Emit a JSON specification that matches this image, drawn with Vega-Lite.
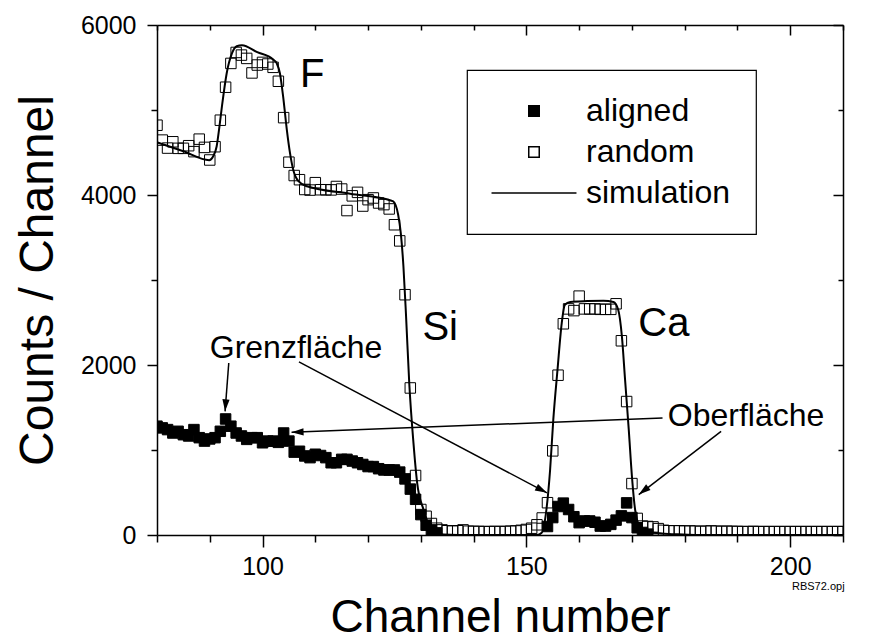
{
  "$schema": "https://vega.github.io/schema/vega-lite/v6.json",
  "width": 686,
  "height": 510,
  "autosize": "none",
  "padding": {"left": 157, "top": 25, "right": 31, "bottom": 109},
  "background": "white",
  "config": {
    "view": {"stroke": null},
    "font": "Liberation Sans",
    "axis": {
      "domainColor": "black", "domainWidth": 1.5, "tickColor": "black", "tickWidth": 1.5,
      "grid": false, "labelColor": "black", "labelFont": "Liberation Sans", "labelFontSize": 25,
      "titleColor": "black", "titleFont": "Liberation Sans", "titleFontWeight": "normal", "titleFontSize": 46,
      "labelFlush": false, "labelOverlap": false
    },
    "legend": {
      "orient": "none", "legendX": 310, "legendY": 45, "padding": 25,
      "strokeColor": "black", "strokeWidth": 1.2, "fillColor": "white",
      "labelFont": "Liberation Sans", "labelFontSize": 32, "labelColor": "black", "labelLimit": 400,
      "symbolSize": 110, "symbolStrokeColor": "black", "symbolStrokeWidth": 1.5,
      "symbolOffset": 26, "labelOffset": 36, "rowPadding": 9
    }
  },
  "datasets": {
    "measured": [
      {"channel": 80, "counts": 1280, "series": "aligned"}, {"channel": 81, "counts": 1260, "series": "aligned"},
      {"channel": 82, "counts": 1240, "series": "aligned"}, {"channel": 83, "counts": 1200, "series": "aligned"},
      {"channel": 84, "counts": 1220, "series": "aligned"}, {"channel": 85, "counts": 1180, "series": "aligned"},
      {"channel": 86, "counts": 1165, "series": "aligned"}, {"channel": 87, "counts": 1240, "series": "aligned"},
      {"channel": 88, "counts": 1145, "series": "aligned"}, {"channel": 89, "counts": 1105, "series": "aligned"},
      {"channel": 90, "counts": 1130, "series": "aligned"}, {"channel": 91, "counts": 1145, "series": "aligned"},
      {"channel": 92, "counts": 1220, "series": "aligned"}, {"channel": 93, "counts": 1365, "series": "aligned"},
      {"channel": 94, "counts": 1280, "series": "aligned"}, {"channel": 95, "counts": 1200, "series": "aligned"},
      {"channel": 96, "counts": 1165, "series": "aligned"}, {"channel": 97, "counts": 1125, "series": "aligned"},
      {"channel": 98, "counts": 1145, "series": "aligned"}, {"channel": 99, "counts": 1145, "series": "aligned"},
      {"channel": 100, "counts": 1085, "series": "aligned"}, {"channel": 101, "counts": 1105, "series": "aligned"},
      {"channel": 102, "counts": 1105, "series": "aligned"}, {"channel": 103, "counts": 1090, "series": "aligned"},
      {"channel": 104, "counts": 1200, "series": "aligned"}, {"channel": 105, "counts": 1105, "series": "aligned"},
      {"channel": 106, "counts": 975, "series": "aligned"}, {"channel": 107, "counts": 985, "series": "aligned"},
      {"channel": 108, "counts": 930, "series": "aligned"}, {"channel": 109, "counts": 910, "series": "aligned"},
      {"channel": 110, "counts": 950, "series": "aligned"}, {"channel": 111, "counts": 935, "series": "aligned"},
      {"channel": 112, "counts": 910, "series": "aligned"}, {"channel": 113, "counts": 850, "series": "aligned"},
      {"channel": 114, "counts": 850, "series": "aligned"}, {"channel": 115, "counts": 890, "series": "aligned"},
      {"channel": 116, "counts": 890, "series": "aligned"}, {"channel": 117, "counts": 870, "series": "aligned"},
      {"channel": 118, "counts": 850, "series": "aligned"}, {"channel": 119, "counts": 830, "series": "aligned"},
      {"channel": 120, "counts": 805, "series": "aligned"}, {"channel": 121, "counts": 805, "series": "aligned"},
      {"channel": 122, "counts": 780, "series": "aligned"}, {"channel": 123, "counts": 765, "series": "aligned"},
      {"channel": 124, "counts": 765, "series": "aligned"}, {"channel": 125, "counts": 765, "series": "aligned"},
      {"channel": 126, "counts": 740, "series": "aligned"}, {"channel": 127, "counts": 660, "series": "aligned"},
      {"channel": 128, "counts": 540, "series": "aligned"}, {"channel": 129, "counts": 420, "series": "aligned"},
      {"channel": 130, "counts": 240, "series": "aligned"}, {"channel": 131, "counts": 115, "series": "aligned"},
      {"channel": 132, "counts": 60, "series": "aligned"}, {"channel": 133, "counts": 25, "series": "aligned"},
      {"channel": 154, "counts": 100, "series": "aligned"}, {"channel": 155, "counts": 205, "series": "aligned"},
      {"channel": 156, "counts": 335, "series": "aligned"}, {"channel": 157, "counts": 375, "series": "aligned"},
      {"channel": 158, "counts": 300, "series": "aligned"}, {"channel": 159, "counts": 215, "series": "aligned"},
      {"channel": 160, "counts": 145, "series": "aligned"}, {"channel": 161, "counts": 165, "series": "aligned"},
      {"channel": 162, "counts": 165, "series": "aligned"}, {"channel": 163, "counts": 150, "series": "aligned"},
      {"channel": 164, "counts": 105, "series": "aligned"}, {"channel": 165, "counts": 105, "series": "aligned"},
      {"channel": 166, "counts": 125, "series": "aligned"}, {"channel": 167, "counts": 175, "series": "aligned"},
      {"channel": 168, "counts": 225, "series": "aligned"}, {"channel": 169, "counts": 378, "series": "aligned"},
      {"channel": 170, "counts": 205, "series": "aligned"}, {"channel": 171, "counts": 85, "series": "aligned"},
      {"channel": 172, "counts": 30, "series": "aligned"}, {"channel": 173, "counts": 10, "series": "aligned"},
      {"channel": 80, "counts": 4821, "series": "random"}, {"channel": 81, "counts": 4646, "series": "random"},
      {"channel": 82, "counts": 4552, "series": "random"}, {"channel": 83, "counts": 4626, "series": "random"},
      {"channel": 84, "counts": 4549, "series": "random"}, {"channel": 85, "counts": 4549, "series": "random"},
      {"channel": 86, "counts": 4580, "series": "random"}, {"channel": 87, "counts": 4510, "series": "random"},
      {"channel": 88, "counts": 4657, "series": "random"}, {"channel": 89, "counts": 4560, "series": "random"},
      {"channel": 90, "counts": 4412, "series": "random"}, {"channel": 91, "counts": 4568, "series": "random"},
      {"channel": 92, "counts": 4880, "series": "random"}, {"channel": 93, "counts": 5268, "series": "random"},
      {"channel": 94, "counts": 5548, "series": "random"}, {"channel": 95, "counts": 5677, "series": "random"},
      {"channel": 96, "counts": 5646, "series": "random"}, {"channel": 97, "counts": 5607, "series": "random"},
      {"channel": 98, "counts": 5436, "series": "random"}, {"channel": 99, "counts": 5529, "series": "random"},
      {"channel": 100, "counts": 5560, "series": "random"}, {"channel": 101, "counts": 5541, "series": "random"},
      {"channel": 102, "counts": 5502, "series": "random"}, {"channel": 103, "counts": 5338, "series": "random"},
      {"channel": 104, "counts": 4910, "series": "random"}, {"channel": 105, "counts": 4386, "series": "random"},
      {"channel": 106, "counts": 4229, "series": "random"}, {"channel": 107, "counts": 4180, "series": "random"},
      {"channel": 108, "counts": 4065, "series": "random"}, {"channel": 109, "counts": 4058, "series": "random"},
      {"channel": 110, "counts": 4145, "series": "random"}, {"channel": 111, "counts": 4062, "series": "random"},
      {"channel": 112, "counts": 4062, "series": "random"}, {"channel": 113, "counts": 4060, "series": "random"},
      {"channel": 114, "counts": 4100, "series": "random"}, {"channel": 115, "counts": 4070, "series": "random"},
      {"channel": 116, "counts": 3817, "series": "random"}, {"channel": 117, "counts": 3990, "series": "random"},
      {"channel": 118, "counts": 4031, "series": "random"}, {"channel": 119, "counts": 3870, "series": "random"},
      {"channel": 120, "counts": 3945, "series": "random"}, {"channel": 121, "counts": 3965, "series": "random"},
      {"channel": 122, "counts": 3906, "series": "random"}, {"channel": 123, "counts": 3887, "series": "random"},
      {"channel": 124, "counts": 3836, "series": "random"}, {"channel": 125, "counts": 3650, "series": "random"},
      {"channel": 126, "counts": 3460, "series": "random"}, {"channel": 127, "counts": 2827, "series": "random"},
      {"channel": 128, "counts": 1730, "series": "random"}, {"channel": 129, "counts": 700, "series": "random"},
      {"channel": 130, "counts": 300, "series": "random"}, {"channel": 131, "counts": 220, "series": "random"},
      {"channel": 132, "counts": 135, "series": "random"}, {"channel": 133, "counts": 80, "series": "random"},
      {"channel": 134, "counts": 60, "series": "random"}, {"channel": 135, "counts": 50, "series": "random"},
      {"channel": 136, "counts": 45, "series": "random"}, {"channel": 137, "counts": 50, "series": "random"},
      {"channel": 138, "counts": 60, "series": "random"}, {"channel": 139, "counts": 45, "series": "random"},
      {"channel": 140, "counts": 42, "series": "random"}, {"channel": 141, "counts": 42, "series": "random"},
      {"channel": 142, "counts": 40, "series": "random"}, {"channel": 143, "counts": 40, "series": "random"},
      {"channel": 144, "counts": 42, "series": "random"}, {"channel": 145, "counts": 40, "series": "random"},
      {"channel": 146, "counts": 42, "series": "random"}, {"channel": 147, "counts": 45, "series": "random"},
      {"channel": 148, "counts": 48, "series": "random"}, {"channel": 149, "counts": 55, "series": "random"},
      {"channel": 150, "counts": 65, "series": "random"}, {"channel": 151, "counts": 80, "series": "random"},
      {"channel": 152, "counts": 120, "series": "random"}, {"channel": 153, "counts": 200, "series": "random"},
      {"channel": 154, "counts": 380, "series": "random"}, {"channel": 155, "counts": 990, "series": "random"},
      {"channel": 156, "counts": 1880, "series": "random"}, {"channel": 157, "counts": 2485, "series": "random"},
      {"channel": 158, "counts": 2660, "series": "random"}, {"channel": 159, "counts": 2640, "series": "random"},
      {"channel": 160, "counts": 2810, "series": "random"}, {"channel": 161, "counts": 2660, "series": "random"},
      {"channel": 162, "counts": 2660, "series": "random"}, {"channel": 163, "counts": 2660, "series": "random"},
      {"channel": 164, "counts": 2655, "series": "random"}, {"channel": 165, "counts": 2655, "series": "random"},
      {"channel": 166, "counts": 2655, "series": "random"}, {"channel": 167, "counts": 2720, "series": "random"},
      {"channel": 168, "counts": 2285, "series": "random"}, {"channel": 169, "counts": 1570, "series": "random"},
      {"channel": 170, "counts": 605, "series": "random"}, {"channel": 171, "counts": 195, "series": "random"},
      {"channel": 172, "counts": 105, "series": "random"}, {"channel": 173, "counts": 100, "series": "random"},
      {"channel": 174, "counts": 95, "series": "random"}, {"channel": 175, "counts": 75, "series": "random"},
      {"channel": 176, "counts": 55, "series": "random"}, {"channel": 177, "counts": 50, "series": "random"},
      {"channel": 178, "counts": 48, "series": "random"}, {"channel": 179, "counts": 50, "series": "random"},
      {"channel": 180, "counts": 45, "series": "random"}, {"channel": 181, "counts": 48, "series": "random"},
      {"channel": 182, "counts": 45, "series": "random"}, {"channel": 183, "counts": 42, "series": "random"},
      {"channel": 184, "counts": 45, "series": "random"}, {"channel": 185, "counts": 48, "series": "random"},
      {"channel": 186, "counts": 45, "series": "random"}, {"channel": 187, "counts": 42, "series": "random"},
      {"channel": 188, "counts": 45, "series": "random"}, {"channel": 189, "counts": 42, "series": "random"},
      {"channel": 190, "counts": 42, "series": "random"}, {"channel": 191, "counts": 40, "series": "random"},
      {"channel": 192, "counts": 40, "series": "random"}, {"channel": 193, "counts": 42, "series": "random"},
      {"channel": 194, "counts": 40, "series": "random"}, {"channel": 195, "counts": 40, "series": "random"},
      {"channel": 196, "counts": 40, "series": "random"}, {"channel": 197, "counts": 40, "series": "random"},
      {"channel": 198, "counts": 40, "series": "random"}, {"channel": 199, "counts": 40, "series": "random"},
      {"channel": 200, "counts": 40, "series": "random"}, {"channel": 201, "counts": 40, "series": "random"},
      {"channel": 202, "counts": 40, "series": "random"}, {"channel": 203, "counts": 40, "series": "random"},
      {"channel": 204, "counts": 40, "series": "random"}, {"channel": 205, "counts": 40, "series": "random"},
      {"channel": 206, "counts": 40, "series": "random"}, {"channel": 207, "counts": 40, "series": "random"},
      {"channel": 208, "counts": 40, "series": "random"}, {"channel": 209, "counts": 40, "series": "random"},
      {"channel": 210, "counts": 40, "series": "random"}
    ],
    "simulation": [
      {"channel": 80, "counts": 4620}, {"channel": 85, "counts": 4515}, {"channel": 89.9, "counts": 4410},
      {"channel": 90.6, "counts": 4450}, {"channel": 91.3, "counts": 4570}, {"channel": 91.8, "counts": 4790},
      {"channel": 92.3, "counts": 5040}, {"channel": 93.2, "counts": 5430}, {"channel": 94.2, "counts": 5665},
      {"channel": 95.1, "counts": 5750}, {"channel": 96.1, "counts": 5762}, {"channel": 99, "counts": 5680},
      {"channel": 102.0, "counts": 5595}, {"channel": 102.7, "counts": 5548}, {"channel": 103.3, "counts": 5430},
      {"channel": 103.9, "counts": 5160}, {"channel": 104.6, "counts": 4770}, {"channel": 105.2, "counts": 4495},
      {"channel": 105.8, "counts": 4300}, {"channel": 106.8, "counts": 4162}, {"channel": 108.4, "counts": 4103},
      {"channel": 116.6, "counts": 4015}, {"channel": 124.3, "counts": 3935}, {"channel": 124.8, "counts": 3923},
      {"channel": 125.7, "counts": 3767}, {"channel": 126.2, "counts": 3552}, {"channel": 126.7, "counts": 3159},
      {"channel": 127.2, "counts": 2572}, {"channel": 127.8, "counts": 1789}, {"channel": 128.6, "counts": 1084},
      {"channel": 129.3, "counts": 614}, {"channel": 130.5, "counts": 300}, {"channel": 131.7, "counts": 103},
      {"channel": 134.3, "counts": 5}, {"channel": 137, "counts": 0}, {"channel": 152, "counts": 0},
      {"channel": 152.9, "counts": 26}, {"channel": 153.8, "counts": 300}, {"channel": 154.5, "counts": 770},
      {"channel": 155.1, "counts": 1357}, {"channel": 155.9, "counts": 1945}, {"channel": 156.7, "counts": 2494},
      {"channel": 157.3, "counts": 2709}, {"channel": 158.3, "counts": 2741}, {"channel": 161.5, "counts": 2752},
      {"channel": 164.6, "counts": 2756}, {"channel": 166.5, "counts": 2741}, {"channel": 167.4, "counts": 2650},
      {"channel": 168.1, "counts": 2336}, {"channel": 168.7, "counts": 1828}, {"channel": 169.4, "counts": 1240},
      {"channel": 170.0, "counts": 691}, {"channel": 170.6, "counts": 300}, {"channel": 171.5, "counts": 103},
      {"channel": 174.1, "counts": 26}, {"channel": 178, "counts": 10}, {"channel": 182, "counts": 0},
      {"channel": 210, "counts": 0}
    ],
    "elements": [
      {"label": "F", "channel": 107.1, "counts": 5412},
      {"label": "Si", "channel": 130.3, "counts": 2439},
      {"label": "Ca", "channel": 171.2, "counts": 2486}
    ],
    "notes": [
      {"label": "Grenzfläche", "channel": 90.0, "counts": 2204},
      {"label": "Oberfläche", "channel": 176.8, "counts": 1404}
    ],
    "arrows": [
      {"fromChannel": 93.6, "fromCounts": 2024, "toChannel": 92.9, "toCounts": 1455},
      {"fromChannel": 106.9, "fromCounts": 2036, "toChannel": 153.9, "toCounts": 496},
      {"fromChannel": 175.8, "fromCounts": 1377, "toChannel": 105.5, "toCounts": 1208},
      {"fromChannel": 186.9, "fromCounts": 1220, "toChannel": 171.3, "toCounts": 476}
    ],
    "fileTag": [
      {"label": "RBS72.opj", "channel": 210.3, "counts": -610}
    ]
  },
  "layer": [
    {
      "data": {"name": "measured"},
      "mark": {"type": "point", "size": 110, "strokeWidth": 1, "opacity": 1, "clip": true},
      "encoding": {
        "x": {
          "field": "channel", "type": "quantitative",
          "scale": {"domain": [80, 210], "nice": false, "zero": false},
          "axis": {
            "orient": "bottom", "title": "Channel number", "titlePadding": 16,
            "values": [80, 90, 100, 110, 120, 130, 140, 150, 160, 170, 180, 190, 200, 210],
            "labelExpr": "datum.value % 50 === 0 ? datum.label : ''",
            "tickSize": {"condition": {"test": "datum.value % 50 === 0", "value": 12}, "value": 7},
            "labelPadding": 7
          }
        },
        "y": {
          "field": "counts", "type": "quantitative",
          "scale": {"domain": [0, 6000], "nice": false, "zero": false},
          "axis": {
            "orient": "left", "title": "Counts / Channel", "titlePadding": 18, "titleFontSize": 48, "format": "d",
            "values": [0, 1000, 2000, 3000, 4000, 5000, 6000],
            "labelExpr": "datum.value % 2000 === 0 ? datum.label : ''",
            "tickSize": {"condition": {"test": "datum.value % 2000 === 0", "value": 10}, "value": 6},
            "labelPadding": 11
          }
        },
        "shape": {
          "field": "series", "type": "nominal",
          "scale": {"domain": ["aligned", "random", "simulation"], "range": ["square", "square", "M-8.1,0H8.1"]},
          "legend": {"title": null}
        },
        "fill": {
          "field": "series", "type": "nominal",
          "scale": {"domain": ["aligned", "random", "simulation"], "range": ["black", "transparent", "transparent"]},
          "legend": {"title": null}
        },
        "stroke": {
          "field": "series", "type": "nominal",
          "scale": {"domain": ["aligned", "random", "simulation"], "range": ["black", "black", "black"]},
          "legend": {"title": null}
        }
      }
    },
    {
      "data": {"name": "simulation"},
      "mark": {"type": "line", "color": "black", "strokeWidth": 2, "interpolate": "monotone", "clip": true},
      "encoding": {
        "x": {
          "field": "channel", "type": "quantitative",
          "axis": {
            "orient": "top", "title": null, "labels": false,
            "values": [80, 90, 100, 110, 120, 130, 140, 150, 160, 170, 180, 190, 200, 210],
            "tickSize": {"condition": {"test": "datum.value % 50 === 0", "value": -10}, "value": -5}
          }
        },
        "y": {
          "field": "counts", "type": "quantitative",
          "axis": {
            "orient": "right", "title": null, "labels": false,
            "values": [0, 1000, 2000, 3000, 4000, 5000, 6000],
            "tickSize": {"condition": {"test": "datum.value % 2000 === 0", "value": -10}, "value": -5}
          }
        }
      }
    },
    {
      "data": {"name": "arrows"},
      "mark": {"type": "rule", "color": "black", "strokeWidth": 1.5},
      "encoding": {
        "x": {"field": "fromChannel", "type": "quantitative", "axis": null},
        "y": {"field": "fromCounts", "type": "quantitative", "axis": null},
        "x2": {"field": "toChannel"},
        "y2": {"field": "toCounts"}
      }
    },
    {
      "data": {"name": "arrows"},
      "transform": [
        {"calculate": "atan2((datum.toChannel - datum.fromChannel) * 5.277, (datum.toCounts - datum.fromCounts) * 0.085) * 180 / PI", "as": "heading"}
      ],
      "mark": {"type": "point", "shape": "M0,0L-0.45,1.5L0.45,1.5Z", "size": 256, "filled": true, "color": "black", "opacity": 1, "strokeWidth": 0},
      "encoding": {
        "x": {"field": "toChannel", "type": "quantitative", "axis": null},
        "y": {"field": "toCounts", "type": "quantitative", "axis": null},
        "angle": {"field": "heading", "type": "quantitative", "scale": null}
      }
    },
    {
      "data": {"name": "elements"},
      "mark": {"type": "text", "fontSize": 40, "font": "Liberation Sans", "align": "left", "baseline": "middle", "color": "black"},
      "encoding": {
        "x": {"field": "channel", "type": "quantitative", "axis": null},
        "y": {"field": "counts", "type": "quantitative", "axis": null},
        "text": {"field": "label"}
      }
    },
    {
      "data": {"name": "notes"},
      "mark": {"type": "text", "fontSize": 32, "font": "Liberation Sans", "align": "left", "baseline": "middle", "color": "black"},
      "encoding": {
        "x": {"field": "channel", "type": "quantitative", "axis": null},
        "y": {"field": "counts", "type": "quantitative", "axis": null},
        "text": {"field": "label"}
      }
    },
    {
      "data": {"name": "fileTag"},
      "mark": {"type": "text", "fontSize": 11, "font": "Liberation Sans", "align": "right", "baseline": "middle", "color": "black"},
      "encoding": {
        "x": {"field": "channel", "type": "quantitative", "axis": null},
        "y": {"field": "counts", "type": "quantitative", "axis": null},
        "text": {"field": "label"}
      }
    }
  ],
  "resolve": {"axis": {"x": "independent", "y": "independent"}}
}
